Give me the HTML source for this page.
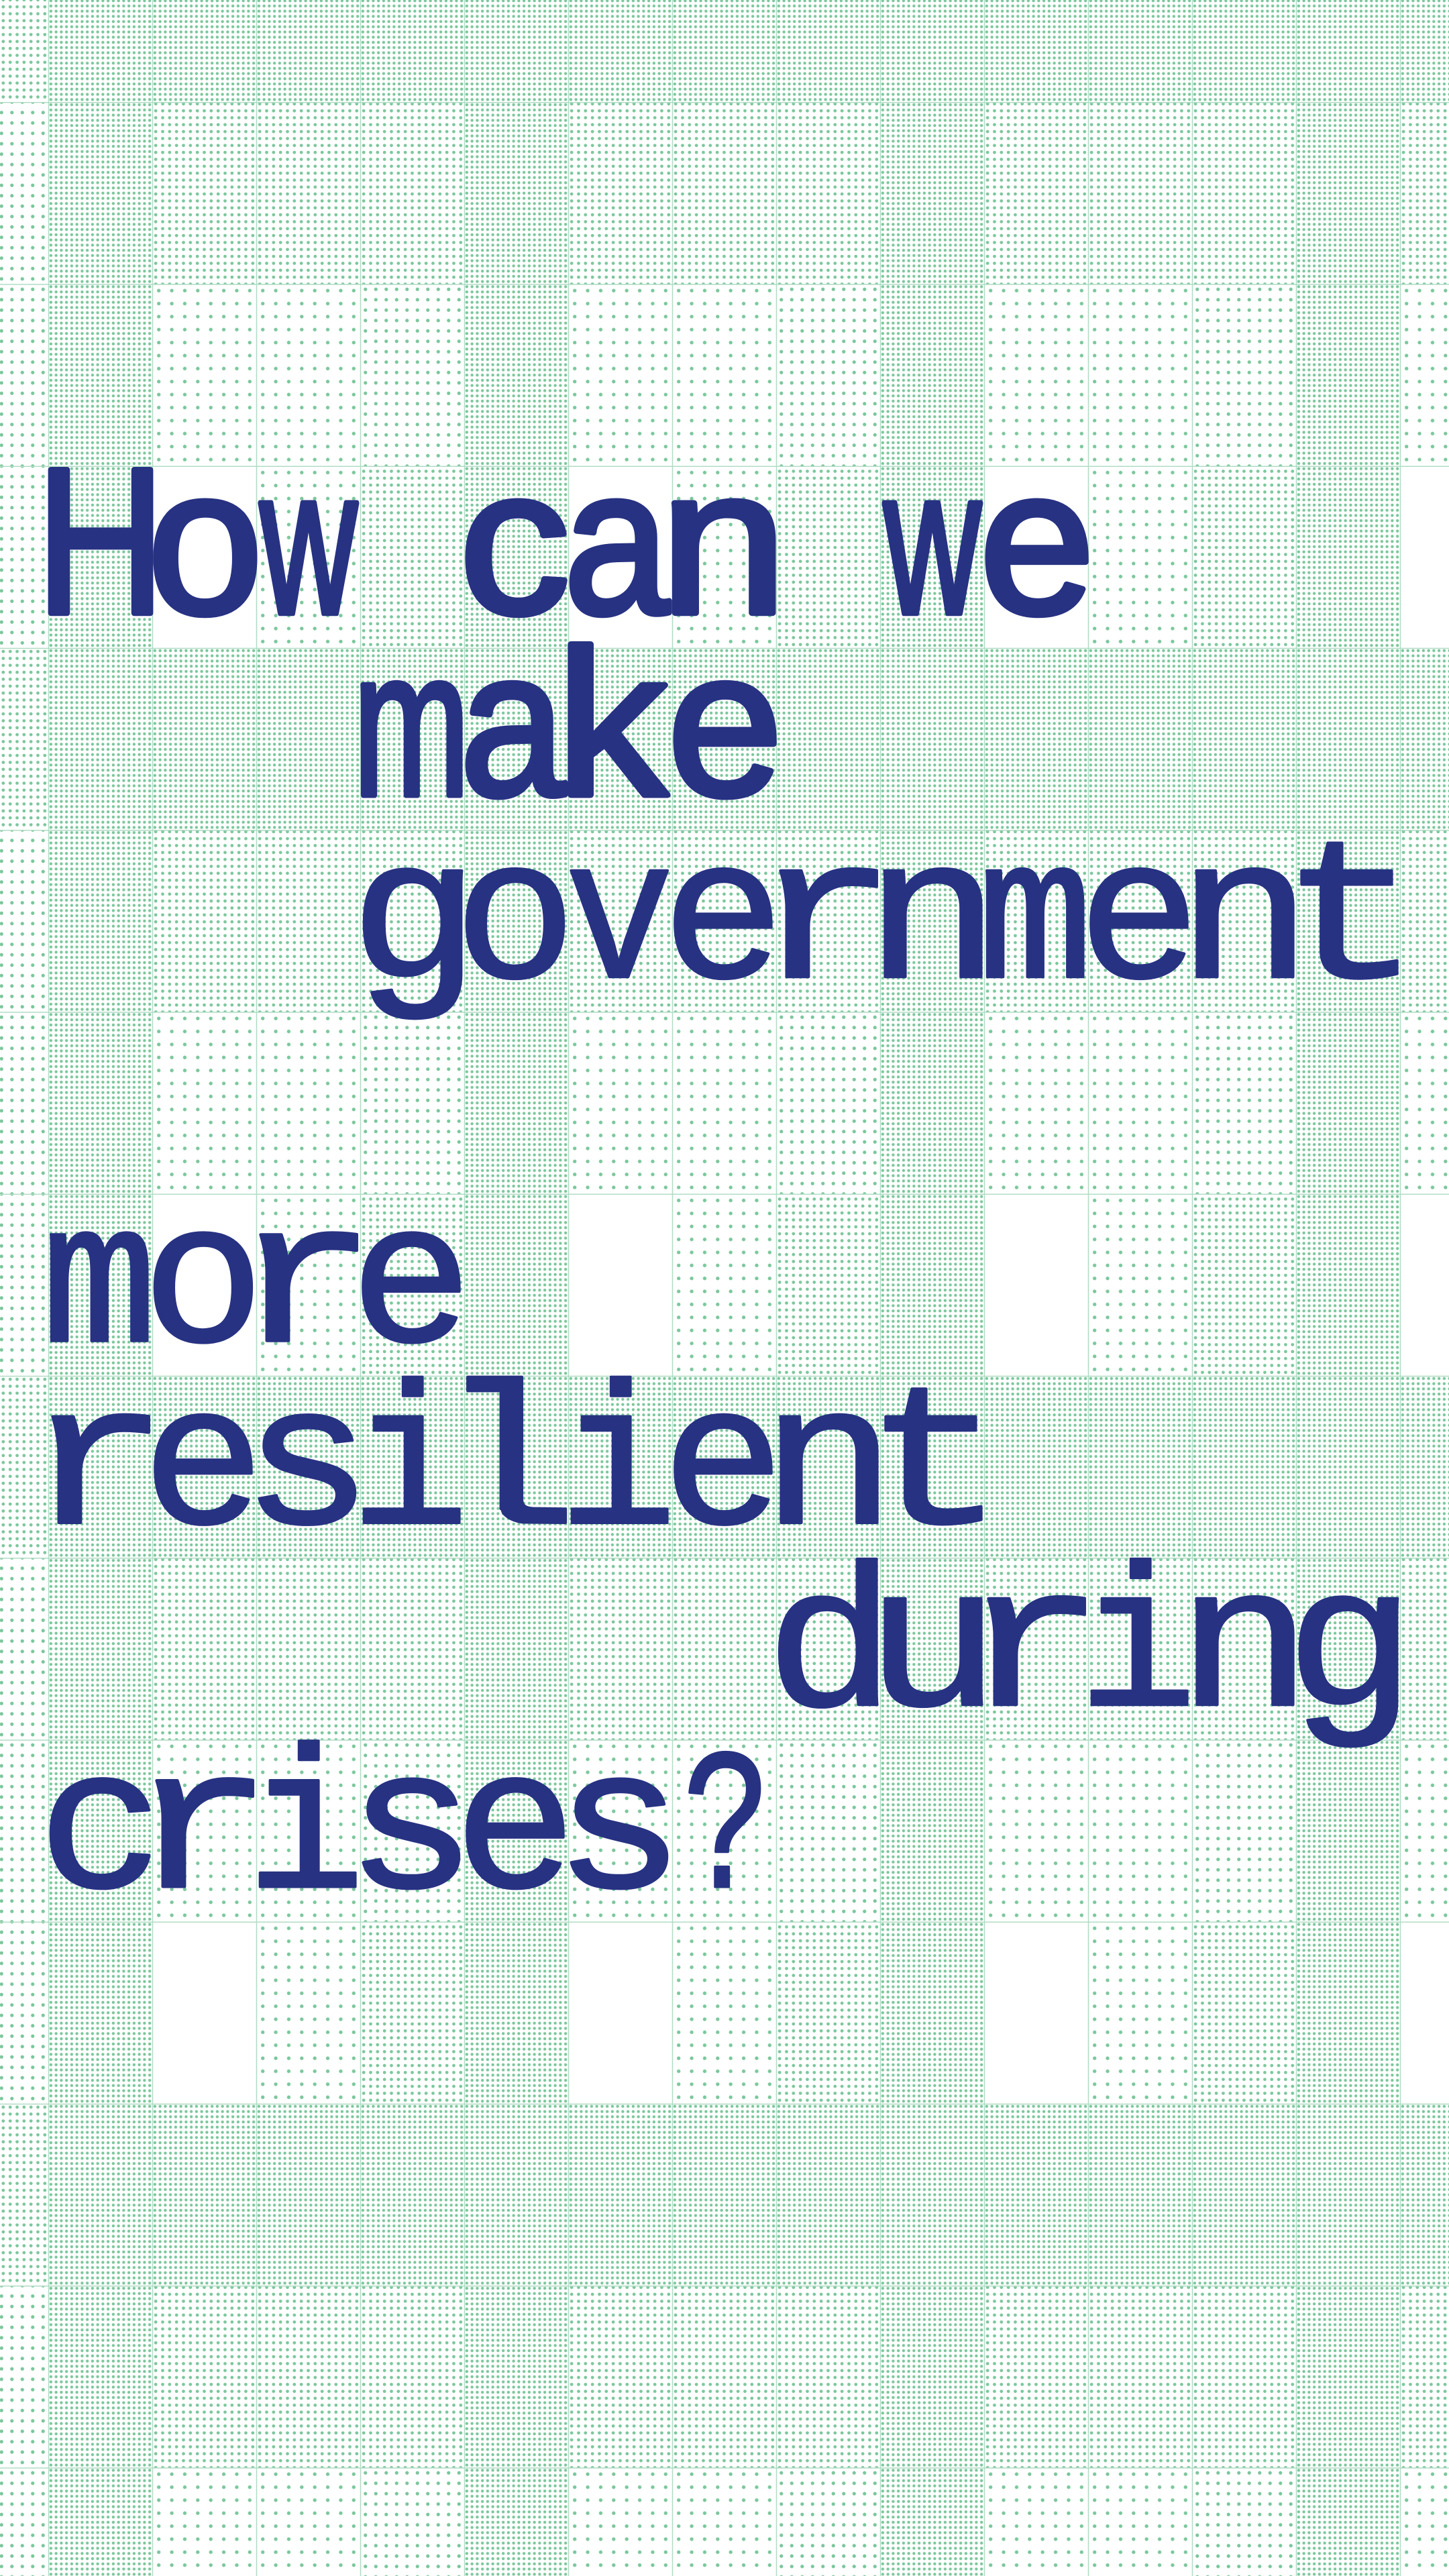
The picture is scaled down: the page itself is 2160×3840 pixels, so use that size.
<!DOCTYPE html>
<html><head><meta charset="utf-8">
<style>
html,body{margin:0;padding:0;background:#fff;}
#poster{position:relative;width:2160px;height:3840px;overflow:hidden;background:#fff;}
svg{display:block;}
</style></head>
<body>
<div id="poster">
<svg id="svg" width="2160" height="3840" viewBox="0 0 2160 3840">
<defs>
<pattern id="p4" patternUnits="userSpaceOnUse" x="-83" y="-119" width="7.75" height="7.75"><circle cx="3.875" cy="3.875" r="2.2" fill="#7cc79d"/></pattern>
<pattern id="p3" patternUnits="userSpaceOnUse" x="-83" y="-119" width="10.333" height="10.333"><circle cx="5.17" cy="5.17" r="2.4" fill="#7cc79d"/></pattern>
<pattern id="p2" patternUnits="userSpaceOnUse" x="-83" y="-119" width="15.5" height="15.5"><circle cx="7.75" cy="7.75" r="2.6" fill="#7cc79d"/></pattern>
<pattern id="p1" patternUnits="userSpaceOnUse" x="-83" y="-119" width="19.375" height="19.375"><circle cx="9.69" cy="9.69" r="2.7" fill="#7cc79d"/></pattern>
</defs>
<g id="cells"></g>
<g id="lines"></g>
<g id="words"></g>
</svg>
</div>
<script>
const rowTypes = ["A","B","C","D","A","B","C","D","A","B","C","D","A","B","C"];
const patA = [4,4,4,4], patB = [3,4,3,3], patC = [2,4,1,1], patD = [3,4,0,1];
const col0Level = {A:3,B:2,C:2,D:2};
const lines = [
  {text:"How", row:3, col:1, font:"sans"},
  {text:"can", row:3, col:5, font:"sans"},
  {text:"we", row:3, col:9, font:"sans"},
  {text:"make", row:4, col:4, font:"sans"},
  {text:"government", row:5, col:4, font:"mono"},
  {text:"more", row:7, col:1, font:"mono"},
  {text:"resilient", row:8, col:1, font:"mono"},
  {text:"during", row:9, col:8, font:"mono"},
  {text:"crises?", row:10, col:1, font:"mono"}
];
const NS="http://www.w3.org/2000/svg";
const X0=-83, Y0=-119, CW=155, RH=271.25, NC=15, NR=15;
const pats={A:patA,B:patB,C:patC,D:patD};
const cells=document.getElementById('cells');
for(let r=0;r<NR;r++){
  const t=rowTypes[r];
  for(let c=0;c<NC;c++){
    let lv = c===0 ? col0Level[t] : pats[t][c%4];
    if(lv===0) continue;
    const rc=document.createElementNS(NS,'rect');
    rc.setAttribute('x',X0+c*CW); rc.setAttribute('y',Y0+r*RH);
    rc.setAttribute('width',CW); rc.setAttribute('height',RH);
    rc.setAttribute('fill','url(#p'+lv+')');
    
    
    cells.appendChild(rc);
  }
}
const lg=document.getElementById('lines');
for(let c=0;c<=NC;c++){
  const l=document.createElementNS(NS,'line');
  const x=X0+c*CW+0.5;
  l.setAttribute('x1',x);l.setAttribute('x2',x);l.setAttribute('y1',0);l.setAttribute('y2',3840);
  l.setAttribute('stroke','#b2dcc5');l.setAttribute('stroke-width','1.5');
  
  
  lg.appendChild(l);
}
for(let r=0;r<=NR;r++){
  const l=document.createElementNS(NS,'line');
  const y=Y0+r*RH+0.5;
  l.setAttribute('x1',0);l.setAttribute('x2',2160);l.setAttribute('y1',y);l.setAttribute('y2',y);
  l.setAttribute('stroke','#b2dcc5');l.setAttribute('stroke-width','1.5');
  
  
  lg.appendChild(l);
}
const cv=document.createElement('canvas').getContext('2d');
const FS={sans:310, mono:300};
const WT={sans:'normal', mono:'normal'};
const SW={sans:'9', mono:'4'};
const fam={sans:'"Liberation Sans", sans-serif', mono:'"Liberation Mono", monospace'};
const target={sans:150, mono:148};
const words=document.getElementById('words');
lines.forEach(w=>{
  const g=document.createElementNS(NS,'g');
  
  
  words.appendChild(g);
  const base=Y0+w.row*RH+219;
  [...w.text].forEach((ch,i)=>{
    const cx=X0+(w.col+i)*CW;
    cv.font=WT[w.font]+' '+FS[w.font]+'px '+fam[w.font];
    const m=cv.measureText(ch);
    const ink=m.actualBoundingBoxLeft+m.actualBoundingBoxRight;
    let tgt=target[w.font];
    if(w.font==='mono' && ch==='?') tgt=110;
    const sx=tgt/ink;
    const tx=cx+(CW-tgt)/2+m.actualBoundingBoxLeft*sx;
    const t=document.createElementNS(NS,'text');
    t.setAttribute('x',0);t.setAttribute('y',0);
    t.setAttribute('font-family',fam[w.font]);
    t.setAttribute('font-weight',WT[w.font]);
    t.setAttribute('font-size',FS[w.font]);
    t.setAttribute('fill','#273282');
    t.setAttribute('stroke','#273282');
    t.setAttribute('stroke-width', SW[w.font]);
    t.setAttribute('stroke-linejoin','round');
    t.setAttribute('transform','translate('+tx+','+base+') scale('+sx+',1)');
    t.textContent=ch;
    
    
    g.appendChild(t);
  });
});
</script>
</body></html>
